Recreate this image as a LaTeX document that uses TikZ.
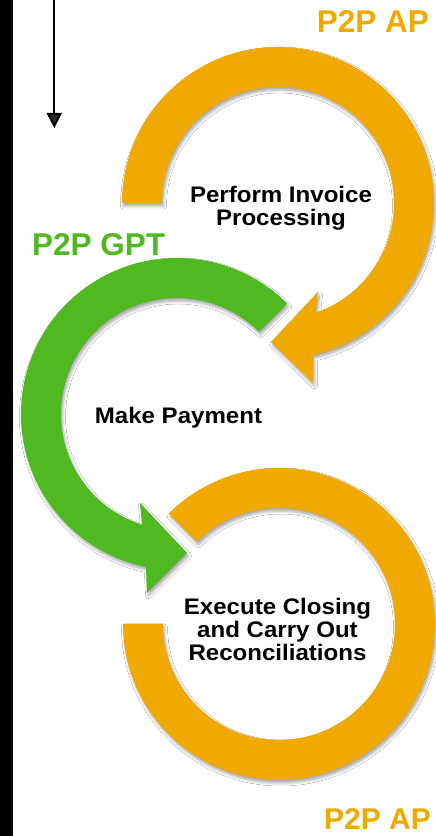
\documentclass[tikz,border=0pt]{standalone}
\usepackage{fontspec}
\setmainfont{Liberation Sans}
\newfontfamily\labfont[FakeStretch=1.07]{Liberation Sans}
\usetikzlibrary{arrows.meta,calc,shadows.blur}
\definecolor{apor}{RGB}{239,169,0}
\definecolor{gptgr}{RGB}{80,184,32}
\begin{document}
\begin{tikzpicture}[x=1pt,y=1pt,
  band/.style={draw=none, blur shadow={shadow xshift=1.5pt, shadow yshift=-3pt, shadow blur radius=3pt, shadow opacity=35}},
  steptext/.style={font=\labfont\fontsize{22.5}{23}\selectfont\bfseries, align=center, inner sep=0pt, text=black},
  tag/.style={font=\fontsize{31.5}{32}\selectfont\bfseries, inner sep=0pt, anchor=base east}]
\useasboundingbox (0,0) rectangle (436,836);
\fill[white] (0,0) rectangle (436,836);
\fill[black] (0,0) rectangle (12.7,836);
% bottom arc
\coordinate (c3) at (279,212);
\fill[apor, band] (123,212) arc[start angle=180,end angle=495,radius=156]
  -- ($(c3)+(135:116)$) arc[start angle=495,end angle=180,radius=116] -- cycle;
% green arc
\coordinate (c2) at (177,422);
\fill[gptgr, band] ($(c2)+(45:156)$) arc[start angle=45,end angle=258.5,radius=156]
  -- (147,243) -- (187,283) -- (140,333)
  -- ($(c2)+(252.5:116)$) arc[start angle=252.5,end angle=45,radius=116] -- cycle;
% top arc
\coordinate (c1) at (278,633);
\fill[apor, band] (122,633) arc[start angle=180,end angle=-77,radius=156]
  -- (313,453) -- (271,494) -- (318,544)
  -- ($(c1)+(-71:116)$) arc[start angle=-71,end angle=180,radius=116] -- cycle;
% texts
\node[steptext, anchor=base] (t1) at (281,610) {Perform Invoice\\Processing};
\node[steptext, anchor=base] (t2) at (178.5,412) {Make Payment};
\node[steptext, anchor=base] (t3) at (277.5,175) {Execute Closing\\and Carry Out\\Reconciliations};
\node[tag, text=apor] (ap1) at (429,803) {P2P AP};
\node[tag, text=gptgr, anchor=base west] (gpt) at (32,580) {P2P GPT};
\node[tag, text=apor, font=\fontsize{30}{31}\selectfont\bfseries] (ap2) at (431,6) {P2P AP};
% arrow
\coordinate (arrS) at (54.3,836);
\coordinate (arrE) at (54.3,708);
\draw[line width=2pt, -{Triangle[length=15pt,width=15pt]}] (arrS) -- (arrE);
\end{tikzpicture}
\end{document}
